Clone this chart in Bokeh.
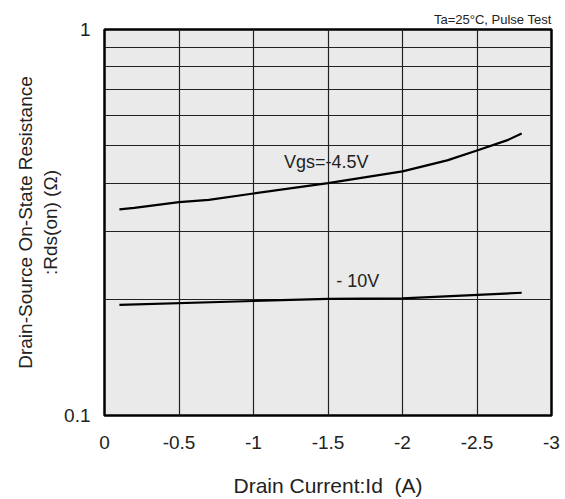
from bokeh.plotting import figure
from bokeh.models import Range1d, FixedTicker, CustomJSTickFormatter
from bokeh.embed import file_html
from bokeh.resources import INLINE
from bokeh.models import Label

# Data
id_45 = [-0.1, -0.2, -0.5, -0.7, -1.0, -1.5, -2.0, -2.3, -2.5, -2.7, -2.8]
r_45 = [0.342, 0.345, 0.357, 0.362, 0.376, 0.400, 0.429, 0.458, 0.486, 0.516, 0.538]
id_10 = [-0.1, -1.0, -1.5, -2.0, -2.8]
r_10 = [0.1935, 0.198, 0.2006, 0.201, 0.208]
x_ticks = [0, -0.5, -1, -1.5, -2, -2.5, -3]
y_ticks = [0.1, 0.2, 0.3, 0.4, 0.5, 0.6, 0.7, 0.8, 0.9, 1.0]

FONT = "Liberation Sans"

p = figure(frame_width=447, frame_height=386, y_axis_type="log",
           x_range=Range1d(0, -3), y_range=Range1d(0.1, 1.0),
           output_backend="svg", toolbar_location=None,
           min_border_left=104, min_border_right=14, min_border_top=29, min_border_bottom=84)

p.title.text = "Ta=25\u00b0C, Pulse Test"
p.title.align = "right"
p.title.text_font = FONT
p.title.text_font_size = "13px"
p.title.text_font_style = "normal"
p.title.text_color = "#222222"
p.title.standoff = 5

p.background_fill_color = "#EAEAEA"
p.border_fill_color = "white"
p.outline_line_color = "black"
p.outline_line_width = 2.5

p.xaxis.ticker = FixedTicker(ticks=x_ticks)
p.xaxis.formatter = CustomJSTickFormatter(code="return String(tick);")
p.yaxis.ticker = FixedTicker(ticks=y_ticks)
p.yaxis.formatter = CustomJSTickFormatter(code="""
if (Math.abs(tick - 1) < 1e-9) return '1';
if (Math.abs(tick - 0.1) < 1e-9) return '0.1';
return '';
""")
p.xgrid.ticker = FixedTicker(ticks=x_ticks)
p.ygrid.ticker = FixedTicker(ticks=y_ticks)
for g in (p.xgrid, p.ygrid):
    g.grid_line_color = "#222222"
    g.grid_line_width = 1.2
    g.grid_line_alpha = 1.0

for ax in (p.xaxis, p.yaxis):
    ax.axis_line_color = None
    ax.major_tick_line_color = None
    ax.minor_tick_line_color = None
    ax.major_label_text_font = FONT
    ax.major_label_text_font_size = "19px"
    ax.major_label_text_color = "#222222"
    ax.axis_label_text_font = FONT
    ax.axis_label_text_font_style = "normal"
    ax.axis_label_text_color = "#222222"

p.xaxis.axis_label_text_font_size = "21px"
p.yaxis.axis_label_text_font_size = "19px"
p.xaxis.major_label_standoff = 14
p.yaxis.major_label_standoff = 8
p.xaxis.axis_label = "Drain Current:Id\u00a0 (A)"
p.xaxis.axis_label_standoff = 22
p.yaxis.axis_label = "Drain-Source On-State Resistance\n:Rds(on) (\u03a9)"
p.yaxis.axis_label_standoff = 0

p.line(id_45, r_45, line_color="black", line_width=2.2)
p.line(id_10, r_10, line_color="black", line_width=2.2)

p.add_layout(Label(x=-1.488, y=0.453, text="Vgs=-4.5V", text_align="center",
                   text_baseline="middle", text_font=FONT,
                   text_font_size="18px", text_color="#222222"))
p.add_layout(Label(x=-1.70, y=0.2225, text="- 10V", text_align="center",
                   text_baseline="middle", text_font=FONT,
                   text_font_size="18px", text_color="#222222"))

open("out.html", "w").write(file_html(p, INLINE))
